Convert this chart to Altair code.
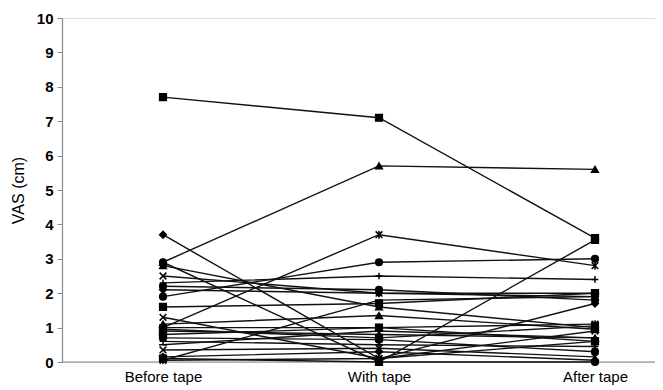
import altair as alt
import pandas as pd

conditions = ["Before tape", "With tape", "After tape"]

subjects = list(range(1, 27))
markers = ["square", "triangle", "asterisk", "diamond", "circle", "plus", "x", "square",
           "dash", "triangle", "circle", "square", "diamond", "x", "asterisk", "triangle",
           "square", "circle", "plus", "dash", "x", "diamond", "asterisk", "circle",
           "triangle", "square"]
before = [7.7, 2.9, 1.0, 3.7, 1.9, 2.3, 2.5, 0.1, 0.05, 2.8, 2.2, 1.6, 2.1, 1.3, 1.0, 0.9,
          0.8, 0.7, 0.6, 0.5, 0.35, 0.15, 0.05, 2.9, 1.1, 0.95]
with_tape = [7.1, 5.7, 3.7, 0.1, 2.9, 2.5, 2.0, 0.0, 1.8, 1.6, 2.1, 1.7, 2.0, 0.1, 1.0, 0.8,
             1.0, 0.65, 0.5, 0.9, 0.4, 0.3, 0.1, 0.0, 1.35, 0.7]
after = [3.6, 5.6, 2.8, 1.7, 3.0, 2.4, 1.9, 3.55, 1.9, 1.0, 1.8, 2.0, 2.0, 0.9, 1.1, 0.7,
         0.6, 0.3, 0.45, 0.7, 0.15, 0.05, 0.6, 0.0, 0.95, 1.05]

marker_names = ["square", "triangle", "diamond", "circle", "plus", "x", "asterisk", "dash"]
marker_shapes = ["square", "triangle-up", "diamond", "circle",
                 "M-1,0H1M0,-1V1", "M-1,-1L1,1M1,-1L-1,1",
                 "M-1,-1L1,1M1,-1L-1,1M0,-1.2V1.2", "M-1.2,0H1.2"]

rows = []
for i, s in enumerate(subjects):
    for k, (c, v) in enumerate(zip(conditions, [before[i], with_tape[i], after[i]])):
        rows.append({"subject": s, "marker": markers[i], "condition": c, "order": k, "vas": v})
df = pd.DataFrame(rows)

x_enc = alt.X("condition:N", sort=conditions,
              scale=alt.Scale(type="point", range=[101, 533], padding=0),
              axis=alt.Axis(title=None, labelAngle=0, ticks=False, labelFontSize=15,
                            labelFont="Liberation Sans", labelColor="black",
                            labelPadding=7, domain=False, grid=False))
y_enc = alt.Y("vas:Q", scale=alt.Scale(domain=[0, 10], nice=False),
              axis=alt.Axis(title="VAS (cm)", values=list(range(0, 11)),
                            labelFontSize=15, labelFontWeight="bold", labelFont="Liberation Sans",
                            labelColor="black", titleFont="Liberation Sans", titleFontSize=16,
                            titleFontWeight="normal", titleColor="black", titlePadding=10,
                            tickColor="#888", tickSize=5, domainColor="#888", domainWidth=1.2,
                            grid=False, labelPadding=4))

base = alt.Chart(df)
xaxis_line = alt.Chart(pd.DataFrame({"a": [0]})).mark_rule(color="#888", strokeWidth=1.2).encode(
    x=alt.value(0), x2=alt.value(593), y=alt.value(344)
)
lines = base.mark_line(color="#111", strokeWidth=1.4).encode(
    x=x_enc, y=y_enc, detail="subject:N", order="order:Q"
)
points = base.mark_point(filled=True, fill="black", stroke="black", strokeWidth=1.5,
                         size=45, opacity=1).encode(
    x=x_enc, y=y_enc,
    shape=alt.Shape("marker:N", scale=alt.Scale(domain=marker_names, range=marker_shapes),
                    legend=None),
)

chart = alt.layer(xaxis_line, lines, points).properties(
    width=593, height=344,
    autosize=alt.AutoSizeParams(type="none"),
    padding={"left": 54, "top": 10, "right": 0, "bottom": 28},
).configure_view(stroke=None).configure(background="white")

chart.save("out.html", embed_options={"renderer": "svg", "actions": False})
